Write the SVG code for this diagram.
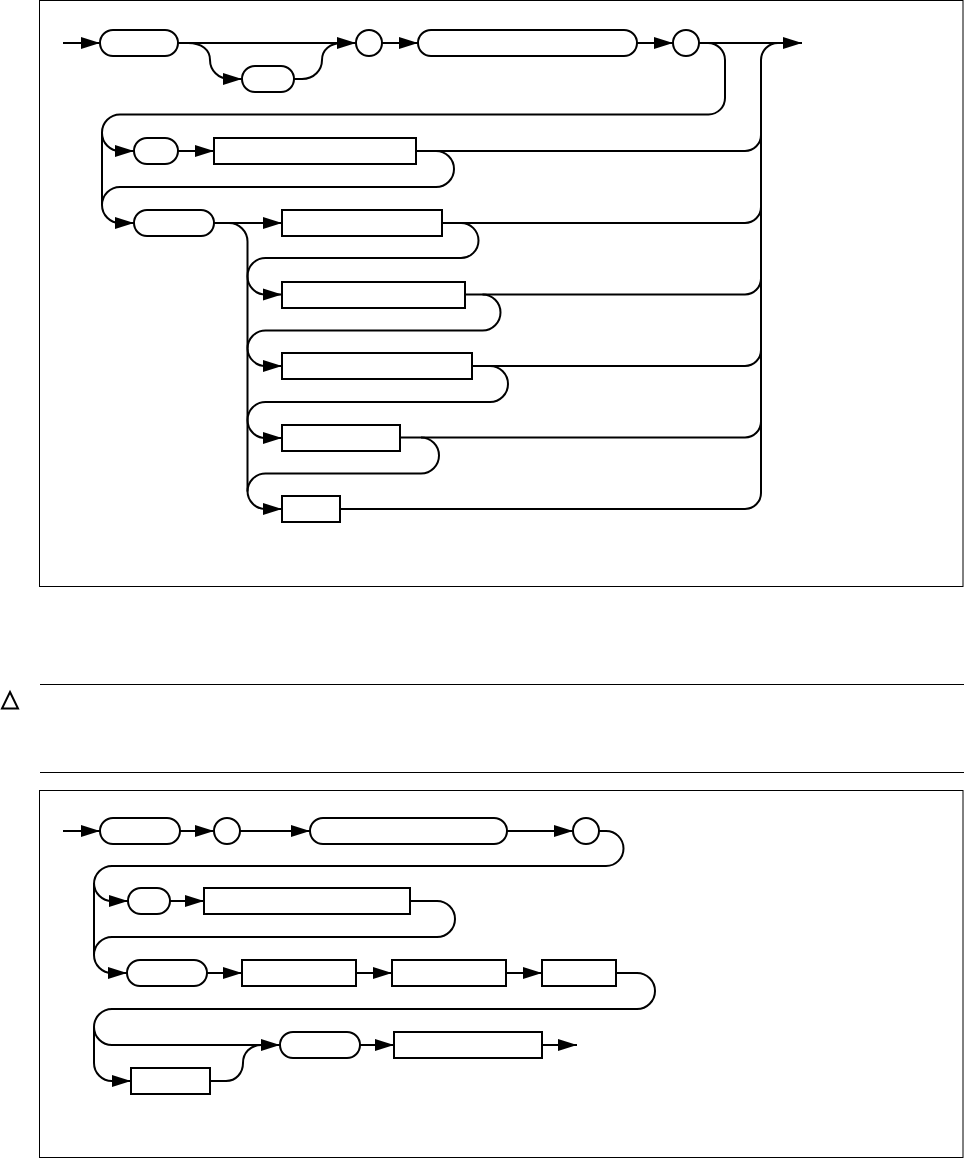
<svg xmlns="http://www.w3.org/2000/svg" width="964" height="1158" viewBox="0 0 964 1158">
<style>
.frame{fill:#fff;stroke:#000;stroke-width:1}
.n{fill:#fff;stroke:#000;stroke-width:2}
.c{fill:none;stroke:#000;stroke-width:2}
.t{fill:none;stroke:#000;stroke-width:2}
.rule{stroke:#000;stroke-width:1}
</style>
<defs>
<marker id="a" markerUnits="userSpaceOnUse" markerWidth="20" markerHeight="14" refX="19" refY="7" orient="auto"><path d="M0 1L19 7L0 13Z" fill="#000"/></marker>
</defs>
<rect class="frame" x="39.500" y="0.500" width="923.500" height="586"/>
<rect class="frame" x="39.500" y="790.500" width="923.500" height="367"/>
<line class="rule" x1="40" y1="684.500" x2="964" y2="684.500"/>
<line class="rule" x1="40" y1="772.500" x2="964" y2="772.500"/>
<path class="t" d="M10 692L18 708.500H2Z"/>
<g id="connectors">
<path class="c" marker-end="url(#a)" d="M63 43H100"/>
<path class="c" marker-end="url(#a)" d="M178 43H356"/>
<path class="c" marker-end="url(#a)" d="M188 43C202 43 210 50 210 60C210 70 218 79 230 79H242"/>
<path class="c" d="M293 79H302C314 79 322 70 322 60C322 50 330 43 342 43"/>
<path class="c" marker-end="url(#a)" d="M382 43H418"/>
<path class="c" marker-end="url(#a)" d="M637 43H673"/>
<path class="c" marker-end="url(#a)" d="M699 43H802"/>
<path class="c" d="M708 43A17 17 0 0 1 725 60V98A16.500 16.500 0 0 1 708.500 114.500H120A18 18 0 0 0 102 132.500V205"/>
<path class="c" marker-end="url(#a)" d="M102 133A18 18 0 0 0 120 151H134"/>
<path class="c" marker-end="url(#a)" d="M178 151H214"/>
<path class="c" d="M416 151H745A16 16 0 0 0 761 135"/>
<path class="c" d="M436 151A18 18 0 0 1 436 187H120A18 18 0 0 0 102 205"/>
<path class="c" marker-end="url(#a)" d="M102 205A18 18 0 0 0 120 223H134"/>
<path class="c" marker-end="url(#a)" d="M214 223H282"/>
<path class="c" d="M229 223A18.500 18.500 0 0 1 247.500 241.500V491"/>
<path class="c" marker-end="url(#a)" d="M247.500 491A18 18 0 0 0 265.500 509H282"/>
<path class="c" d="M442 223H745A16 16 0 0 0 761 207"/>
<path class="c" d="M461 223A17.500 17.500 0 0 1 461 258H265.500A18 18 0 0 0 247.500 276"/>
<path class="c" marker-end="url(#a)" d="M247.500 276A18 18 0 0 0 265.500 294.500H282"/>
<path class="c" d="M465 294.500H745A16 16 0 0 0 761 278.500"/>
<path class="c" d="M482.500 294.500A18 18 0 0 1 482.500 330.500H265.500A18 18 0 0 0 247.500 348.500"/>
<path class="c" marker-end="url(#a)" d="M247.500 348.500A18 18 0 0 0 265.500 366H282"/>
<path class="c" d="M472 366H745A16 16 0 0 0 761 350"/>
<path class="c" d="M490 366A18 18 0 0 1 490 402H265.500A18 18 0 0 0 247.500 420"/>
<path class="c" marker-end="url(#a)" d="M247.500 420A18 18 0 0 0 265.500 438H282"/>
<path class="c" d="M400 437.500H745A16 16 0 0 0 761 421.500"/>
<path class="c" d="M421 437.500A18 18 0 0 1 421 473.500H265.500A18 18 0 0 0 247.500 491.500"/>
<path class="c" d="M340 509H745A16 16 0 0 0 761 493V60A17 17 0 0 1 778 43"/>
<path class="c" marker-end="url(#a)" d="M63 831H100"/>
<path class="c" marker-end="url(#a)" d="M180 831H214"/>
<path class="c" marker-end="url(#a)" d="M240 831H310"/>
<path class="c" marker-end="url(#a)" d="M507 831H573"/>
<path class="c" d="M599 831H606A17.500 17.500 0 0 1 606 866H112A18 18 0 0 0 94 884V955"/>
<path class="c" marker-end="url(#a)" d="M94 883A18 18 0 0 0 112 901H128"/>
<path class="c" marker-end="url(#a)" d="M170 901H204"/>
<path class="c" d="M410 901H437A18 18 0 0 1 437 937H112A18 18 0 0 0 94 955"/>
<path class="c" marker-end="url(#a)" d="M94 955A18 18 0 0 0 112 973H127"/>
<path class="c" marker-end="url(#a)" d="M207 973H242"/>
<path class="c" marker-end="url(#a)" d="M356 973H392"/>
<path class="c" marker-end="url(#a)" d="M506 973H542"/>
<path class="c" d="M616 973H637A18 18 0 0 1 637 1009H112A18 18 0 0 0 94 1027V1063"/>
<path class="c" marker-end="url(#a)" d="M94 1027A18 18 0 0 0 112 1045H280"/>
<path class="c" marker-end="url(#a)" d="M94 1063A18 18 0 0 0 112 1081H131"/>
<path class="c" d="M210 1081H226C236 1081 243 1073 243 1063C243 1053 250 1045 262 1045"/>
<path class="c" marker-end="url(#a)" d="M360 1045H394"/>
<path class="c" marker-end="url(#a)" d="M542 1045H577"/>
</g>
<g id="n1"><rect class="n" x="100" y="30" width="78" height="26" rx="13"/></g>
<g id="n2"><rect class="n" x="242" y="66" width="52" height="26" rx="13"/></g>
<g id="n3"><circle class="n" cx="369" cy="43" r="13"/></g>
<g id="n4"><rect class="n" x="418" y="30" width="219" height="26" rx="13"/></g>
<g id="n5"><circle class="n" cx="686" cy="43" r="13"/></g>
<g id="n6"><rect class="n" x="134" y="138" width="44" height="26" rx="13"/></g>
<g id="n7"><rect class="n" x="214" y="138" width="202" height="26"/></g>
<g id="n8"><rect class="n" x="134" y="210" width="80" height="26" rx="13"/></g>
<g id="n9"><rect class="n" x="282" y="210" width="160" height="26"/></g>
<g id="n10"><rect class="n" x="282" y="282" width="183" height="26"/></g>
<g id="n11"><rect class="n" x="282" y="353" width="190" height="26"/></g>
<g id="n12"><rect class="n" x="282" y="425" width="118" height="26"/></g>
<g id="n13"><rect class="n" x="282" y="496" width="58" height="26"/></g>
<g id="n14"><rect class="n" x="100" y="818" width="80" height="26" rx="13"/></g>
<g id="n15"><circle class="n" cx="227" cy="831" r="13"/></g>
<g id="n16"><rect class="n" x="310" y="818" width="197" height="26" rx="13"/></g>
<g id="n17"><circle class="n" cx="586" cy="831" r="13"/></g>
<g id="n18"><rect class="n" x="128" y="888" width="42" height="26" rx="13"/></g>
<g id="n19"><rect class="n" x="204" y="888" width="206" height="26"/></g>
<g id="n20"><rect class="n" x="127" y="960" width="80" height="26" rx="13"/></g>
<g id="n21"><rect class="n" x="242" y="960" width="114" height="26"/></g>
<g id="n22"><rect class="n" x="392" y="960" width="114" height="26"/></g>
<g id="n23"><rect class="n" x="542" y="960" width="74" height="26"/></g>
<g id="n24"><rect class="n" x="280" y="1032" width="80" height="26" rx="13"/></g>
<g id="n25"><rect class="n" x="394" y="1032" width="148" height="26"/></g>
<g id="n26"><rect class="n" x="131" y="1068" width="79" height="26"/></g>
</svg>
